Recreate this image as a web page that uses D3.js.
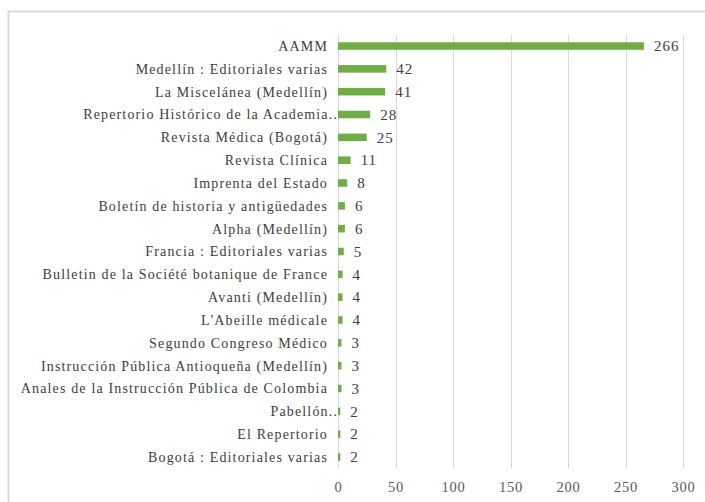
<!DOCTYPE html>
<html>
<head>
<meta charset="utf-8">
<script src="https://cdn.jsdelivr.net/npm/d3@7"></script>
<style>
  body { margin: 0; background: #fff; }
</style>
</head>
<body>
<svg width="705" height="502"></svg>
<script>
var categories = [
  "AAMM",
  "Medellín : Editoriales varias",
  "La Miscelánea (Medellín)",
  "Repertorio Histórico de la Academia..",
  "Revista Médica (Bogotá)",
  "Revista Clínica",
  "Imprenta del Estado",
  "Boletín de historia y antigüedades",
  "Alpha (Medellín)",
  "Francia : Editoriales varias",
  "Bulletin de la Société botanique de France",
  "Avanti (Medellín)",
  "L'Abeille médicale",
  "Segundo Congreso Médico",
  "Instrucción Pública Antioqueña (Medellín)",
  "Anales de la Instrucción Pública de Colombia",
  "Pabellón..",
  "El Repertorio",
  "Bogotá : Editoriales varias"
];
var values = [266, 42, 41, 28, 25, 11, 8, 6, 6, 5, 4, 4, 4, 3, 3, 3, 2, 2, 2];
var ticks = [0, 50, 100, 150, 200, 250, 300];

var font = "'Liberation Serif', serif";

var svg = d3.select("svg"),
    width = +svg.attr("width"),
    height = +svg.attr("height");

// chart frame
svg.append("rect")
    .attr("x", 8.5).attr("y", 11.5)
    .attr("width", 800).attr("height", 600)
    .attr("fill", "none")
    .attr("stroke", "#d9d9d9")
    .attr("stroke-width", 2);

var x = d3.scaleLinear()
    .domain([0, 300])
    .range([338, 683]);

var y = d3.scaleBand()
    .domain(categories)
    .range([34.6, 468.4])
    .paddingInner(0.67)
    .paddingOuter(0.335);

// gridlines
svg.append("g")
  .selectAll("line")
    .data(ticks)
  .enter().append("line")
    .attr("x1", function(d) { return Math.round(x(d)) + 0.5; })
    .attr("x2", function(d) { return Math.round(x(d)) + 0.5; })
    .attr("y1", 34.6)
    .attr("y2", 468.4)
    .attr("stroke", "#d9d9d9")
    .attr("stroke-width", 1);

// tick labels
var xAxis = svg.append("g")
    .attr("transform", "translate(0,468)")
    .call(d3.axisBottom(x).tickValues(ticks).tickSize(0).tickPadding(14));
xAxis.select(".domain").remove();
xAxis.selectAll("text")
    .style("font-family", font)
    .style("font-size", "14.5px")
    .style("letter-spacing", "0.8px")
    .attr("fill", "#595959");

// bars
svg.append("g")
  .selectAll("rect")
    .data(values)
  .enter().append("rect")
    .attr("x", x(0))
    .attr("y", function(d, i) { return y(categories[i]); })
    .attr("width", function(d) { return x(d) - x(0); })
    .attr("height", y.bandwidth())
    .attr("fill", "#70ad47");

// value labels
svg.append("g")
  .selectAll("text")
    .data(values)
  .enter().append("text")
    .attr("x", function(d) { return x(d) + 10; })
    .attr("y", function(d, i) { return y(categories[i]) + y.bandwidth() / 2; })
    .attr("dy", "0.35em")
    .style("font-family", font)
    .style("font-size", "15px")
    .style("letter-spacing", "1px")
    .attr("fill", "#404040")
    .text(function(d) { return d; });

// category labels
svg.append("g")
  .selectAll("text")
    .data(categories)
  .enter().append("text")
    .attr("x", function(d) { return /\.\.$/.test(d) ? 338 : 328; })
    .attr("y", function(d) { return y(d) + y.bandwidth() / 2; })
    .attr("dy", "0.35em")
    .attr("text-anchor", "end")
    .style("font-family", font)
    .style("font-size", "14px")
    .style("letter-spacing", "1.15px")
    .attr("fill", "#404040")
    .text(function(d) { return d; });
</script>
</body>
</html>
